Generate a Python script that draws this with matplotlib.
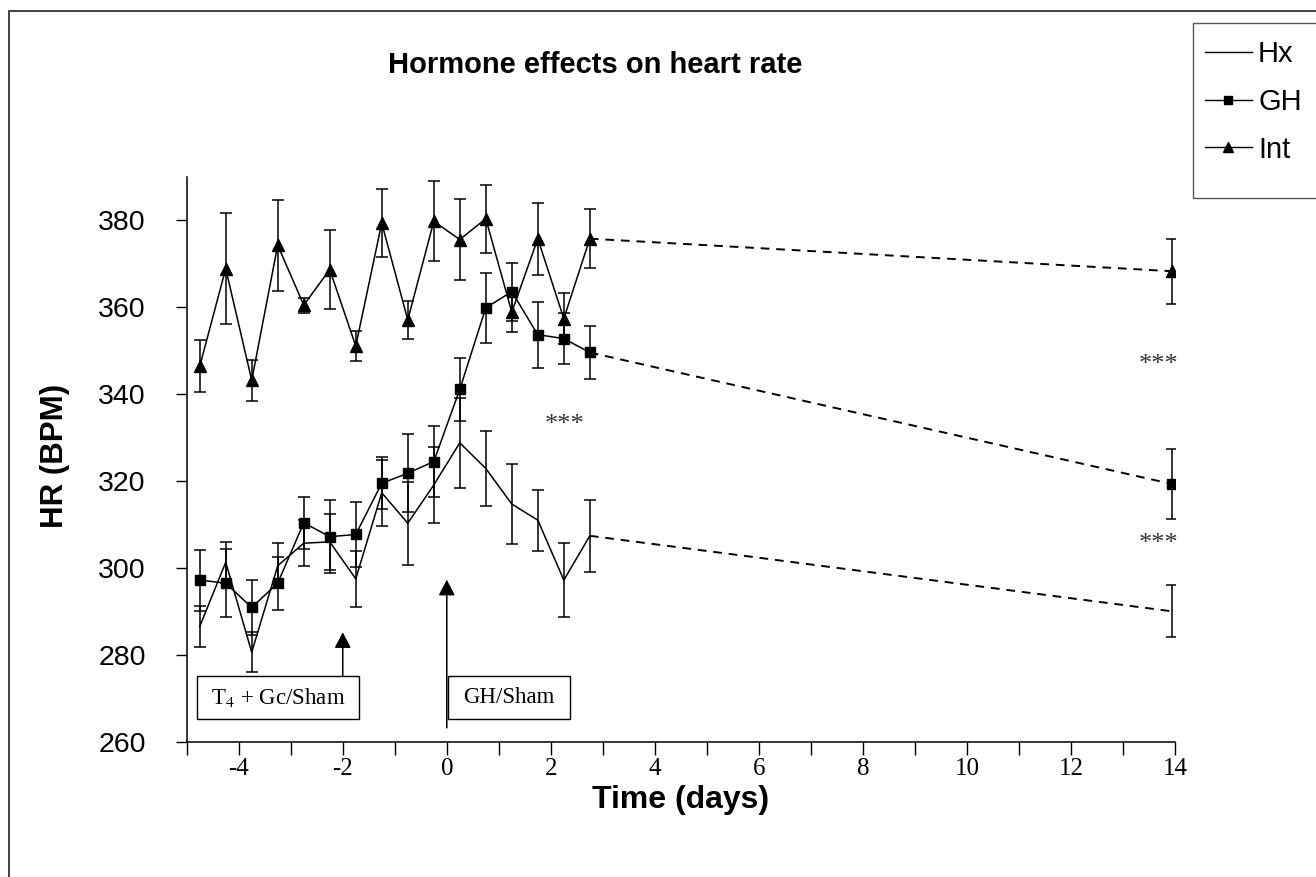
import matplotlib
matplotlib.use("Agg")
import matplotlib.pyplot as plt
from matplotlib.patches import Rectangle
from matplotlib.lines import Line2D
from matplotlib.ticker import MultipleLocator

plt.rcParams["axes.unicode_minus"] = False

# days of measurement (0.5 day steps) plus the late day-14 reading
days = [-4.75, -4.25, -3.75, -3.25, -2.75, -2.25, -1.75, -1.25,
        -0.75, -0.25, 0.25, 0.75, 1.25, 1.75, 2.25, 2.75]
day_late = 13.95

hx = [286.5, 301.3, 280.6, 300.5, 305.7, 306.0, 297.5, 317.3,
      310.3, 319.1, 328.8, 322.9, 314.7, 311.0, 297.2, 307.4]
hx_err = [4.8, 4.7, 4.6, 5.2, 5.3, 6.5, 6.5, 7.6,
          9.6, 8.8, 10.4, 8.6, 9.3, 7.0, 8.6, 8.3]
hx_late, hx_late_err = 290.0, 6.0

gh = [297.2, 296.5, 290.9, 296.5, 310.4, 307.2, 307.7, 319.5,
      321.8, 324.5, 341.1, 359.9, 363.6, 353.7, 352.8, 349.6]
gh_err = [7.0, 7.9, 6.4, 6.1, 6.0, 8.4, 7.4, 6.0,
          9.0, 8.2, 7.2, 8.0, 6.7, 7.6, 5.8, 6.2]
gh_late, gh_late_err = 319.3, 8.0

int_hr = [346.4, 368.9, 343.2, 374.3, 360.5, 368.7, 351.1, 379.4,
          357.1, 379.8, 375.6, 380.4, 358.9, 375.8, 357.4, 375.8]
int_err = [6.0, 12.7, 4.7, 10.5, 1.7, 9.2, 3.5, 7.8,
           4.3, 9.2, 9.4, 7.8, 4.6, 8.3, 5.8, 6.8]
int_late, int_late_err = 368.3, 7.5

SANS = "Liberation Sans"
SERIF = "Liberation Serif"

fig = plt.figure(figsize=(13.16, 8.77), dpi=100)
ax = fig.add_axes([186.7 / 1316, 1 - 741.7 / 877, (1175 - 186.7) / 1316, (741.7 - 177) / 877])

series = [
    (hx, hx_err, hx_late, hx_late_err, None, 0),
    (gh, gh_err, gh_late, gh_late_err, "s", 7),
    (int_hr, int_err, int_late, int_late_err, "^", 8.5),
]
ekw = dict(ecolor="black", elinewidth=1.1, capsize=4, capthick=1.1)
for vals, errs, late, late_err, mk, ms in series:
    ax.errorbar(days, vals, yerr=errs, color="black", lw=1.1,
                marker=mk, ms=ms, mfc="black", mec="black", zorder=3, **ekw)
    ax.errorbar([day_late], [late], yerr=[late_err], color="black", lw=0,
                marker=mk, ms=ms, mfc="black", mec="black", zorder=3, **ekw)
    ax.plot([days[-1], day_late], [vals[-1], late], color="black", lw=1.4,
            ls=(0, (4.5, 3.5)), zorder=2)

ax.set_xlim(-5, 14)
ax.set_ylim(260, 390)
ax.spines["top"].set_visible(False)
ax.spines["right"].set_visible(False)
for s in ("left", "bottom"):
    ax.spines[s].set_linewidth(1.1)
ax.set_yticks([260, 280, 300, 320, 340, 360, 380])
ax.xaxis.set_major_locator(MultipleLocator(2))
ax.xaxis.set_minor_locator(MultipleLocator(1))
ax.tick_params(axis="y", direction="out", length=8, width=1, pad=21.5,
               labelsize=20.5)
ax.tick_params(axis="x", which="both", direction="out", length=9.5, width=1,
               pad=2, labelsize=18)
for lab in ax.get_yticklabels():
    lab.set_fontfamily(SANS)
for lab in ax.get_xticklabels():
    lab.set_fontfamily(SERIF)

fig.text(681 / 1316, 1 - 800 / 877, "Time (days)", fontfamily=SANS,
         fontsize=23, fontweight="bold", ha="center", va="center")
fig.text(55 / 1316, 1 - 456 / 877, "HR (BPM)", fontfamily=SANS,
         fontsize=22.5, fontweight="bold", ha="center", va="center", rotation=90)
fig.text(595 / 1316, 1 - 65 / 877, "Hormone effects on heart rate",
         fontfamily=SANS, fontsize=21, fontweight="bold",
         ha="center", va="center")

# treatment boxes and arrows
ax.add_patch(Rectangle((-4.8, 265.2), 3.12, 9.9, fill=False, lw=1, ec="black", zorder=4))
ax.text(-3.24, 270.1, r"T$_4$ + Gc/Sham", fontfamily=SERIF, fontsize=16.5,
        ha="center", va="center", math_fontfamily="stix")
ax.add_patch(Rectangle((0.02, 265.2), 2.34, 9.9, fill=False, lw=1, ec="black", zorder=4))
ax.text(1.19, 270.1, "GH/Sham", fontfamily=SERIF, fontsize=16.5,
        ha="center", va="center")
arrow = dict(arrowstyle="-|>,head_length=0.48,head_width=0.25", lw=1.1,
             color="black", shrinkA=0, shrinkB=0, mutation_scale=20)
ax.annotate("", xy=(-2.0, 285.2), xytext=(-2.0, 275.1), arrowprops=arrow)
ax.annotate("", xy=(0.0, 297.3), xytext=(0.0, 263.2), arrowprops=arrow)

# significance marks
for xs, ys in [(2.26, 333.0), (13.68, 346.8), (13.68, 305.4)]:
    ax.text(xs, ys, "***", fontfamily=SERIF, fontsize=19, color="#333333",
            ha="center", va="center")

# outer frame (cut at right/bottom)
fig.add_artist(Rectangle((9 / 1316, -0.1), 1.2, 1.1 - 10.7 / 877,
                         transform=fig.transFigure, fill=False, lw=1.3,
                         ec="#333333"))

# legend
fig.add_artist(Rectangle((1193 / 1316, 1 - 198 / 877), 0.2, (198 - 23) / 877,
                         transform=fig.transFigure, fill=False, lw=1,
                         ec="#555555"))
handles = [
    Line2D([], [], color="black", lw=1),
    Line2D([], [], color="black", lw=1, marker="s", ms=6),
    Line2D([], [], color="black", lw=1, marker="^", ms=7.5),
]
fig.legend(handles, ["Hx", "GH", "Int"], loc="upper left",
           bbox_to_anchor=(1205 / 1316, 1 - 40 / 877), frameon=False,
           prop={"family": SANS, "size": 21}, handlelength=1.6,
           handletextpad=0.22, labelspacing=0.68, borderaxespad=0,
           borderpad=0)

fig.savefig("out.png", dpi=100)
